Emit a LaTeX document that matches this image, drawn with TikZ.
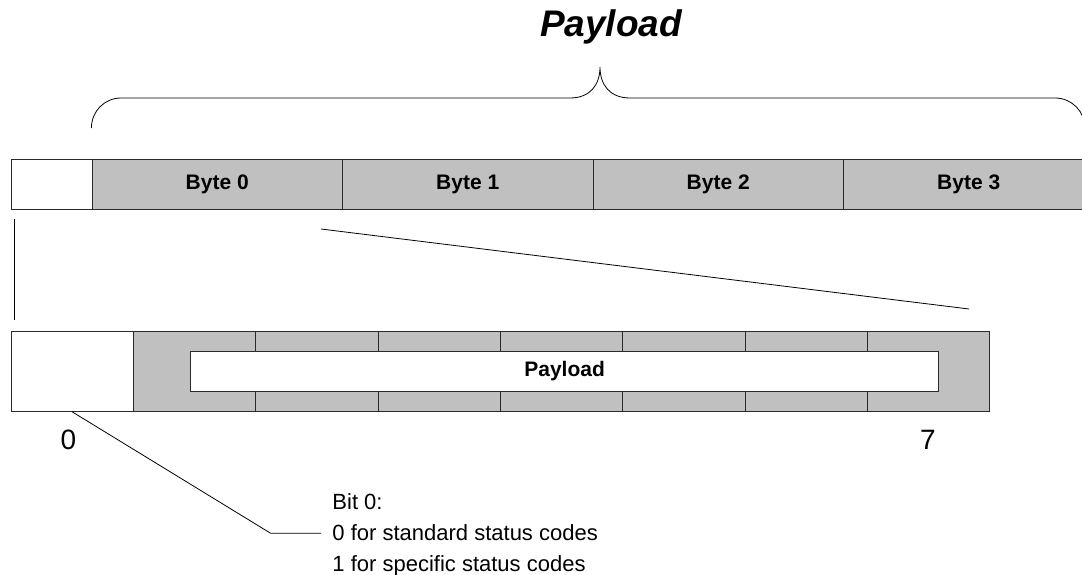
\documentclass[tikz,border=0pt]{standalone}
\usepackage{fontspec}
\setmainfont{Liberation Sans}
\definecolor{cellgray}{HTML}{C0C0C0}
\definecolor{edge}{HTML}{2A2A2A}
\begin{document}
\begin{tikzpicture}[x=1pt,y=-1pt,line width=0.9pt,
  bytecell/.style={draw=edge,fill=cellgray,inner sep=0pt,minimum width=250.5pt,minimum height=49.5pt,anchor=north west,font=\fontsize{21}{25}\selectfont\bfseries},
  whitecell/.style={draw=edge,fill=white,inner sep=0pt,anchor=north west},
  bitcell/.style={draw=edge,fill=cellgray,inner sep=0pt,minimum width=122.3pt,minimum height=80.3pt,anchor=north west},
  digit/.style={font=\fontsize{28}{32}\selectfont,inner sep=0pt},
  note/.style={font=\fontsize{22}{26}\selectfont,inner sep=0pt,anchor=base west},
  thin/.style={line width=0.8pt,draw=black}]
\useasboundingbox (0,0) rectangle (1082,575);
\clip (0,0) rectangle (1082,575);

% title and brace
\node[font=\fontsize{37}{42}\selectfont\bfseries\itshape,inner sep=0pt,anchor=base] (title) at (611,37) {Payload};
\draw[thin] (91.4,128) .. controls (91.4,111.4) and (104.4,98) .. (121,98) -- (570,98)
  .. controls (590,98) and (600,85) .. (600,67)
  .. controls (600,85) and (610,98) .. (630,98) -- (1055,98)
  .. controls (1071.6,98) and (1085,111.4) .. (1085,128);

% top row
\node[whitecell,minimum width=80.8pt,minimum height=49.5pt] (hdr) at (10.7,159.5) {};
\node[bytecell] (B0) at (91.5,159.5) {Byte 0};
\node[bytecell] (B1) at (342,159.5) {Byte 1};
\node[bytecell] (B2) at (592.5,159.5) {Byte 2};
\node[bytecell] (B3) at (843,159.5) {Byte 3};

% zoom lines
\coordinate (z1a) at (14,219);
\coordinate (z1b) at (14,320);
\coordinate (z2a) at (321,229);
\coordinate (z2b) at (969,309);
\draw[thin] (z1a) -- (z1b);
\draw[thin] (z2a) -- (z2b);

% bottom row
\node[whitecell,minimum width=122.3pt,minimum height=80.3pt] (bit0) at (10.7,330.7) {};
\node[bitcell] (bit1) at (133,330.7) {};
\node[bitcell] (bit2) at (255.3,330.7) {};
\node[bitcell] (bit3) at (377.6,330.7) {};
\node[bitcell] (bit4) at (499.9,330.7) {};
\node[bitcell] (bit5) at (622.2,330.7) {};
\node[bitcell] (bit6) at (744.5,330.7) {};
\node[bitcell] (bit7) at (866.8,330.7) {};
\node[whitecell,minimum width=748.3pt,minimum height=40pt,font=\fontsize{21}{25}\selectfont\bfseries] (pl) at (190,350.7) {Payload};

% bit numbers
\node[digit] (n0) at (68.3,440) {0};
\node[digit] (n7) at (928,440) {7};

% annotation
\node[note] (l0) at (332,509) {Bit 0:};
\node[note] (l1) at (332,540) {0 for standard status codes};
\node[note] (l2) at (332,571) {1 for specific status codes};
\coordinate (knee) at (270.7,533.3);
\coordinate (lend) at (321,533.3);
\draw[thin] (bit0.south) -- (knee) -- (lend);
\end{tikzpicture}
\end{document}
